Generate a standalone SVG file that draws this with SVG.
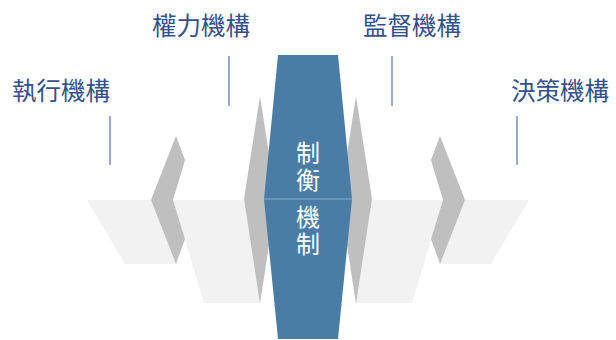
<svg xmlns="http://www.w3.org/2000/svg" width="616" height="340" viewBox="0 0 616 340">
<style>
.box{fill:#f2f2f2}
.chev{fill:#bfbfbf}
.lbl{font-family:"Noto Sans CJK TC","Noto Sans CJK SC",sans-serif;font-size:24.5px;fill:#34508e}
.ctr{font-family:"Noto Sans CJK TC","Noto Sans CJK SC",sans-serif;font-size:24px;fill:#ffffff;writing-mode:vertical-rl}
.lead{stroke:#5b70b0;stroke-width:1.2;fill:none}
</style>
<rect width="616" height="340" fill="#ffffff"/>
<g id="exec">
<polygon class="box" points="87,200 151,200 176,264 125,264"/>
<text class="lbl" x="12" y="100">執行機構</text>
</g>
<g id="decision">
<polygon class="box" points="529,200 465,200 440,264 491,264"/>
<text class="lbl" x="511" y="100">決策機構</text>
</g>
<g id="power">
<polygon class="box" points="173,200 244,200 260,303 204,303"/>
<text class="lbl" x="152" y="35">權力機構</text>
</g>
<g id="supervise">
<polygon class="box" points="443,200 372,200 356,303 412,303"/>
<text class="lbl" x="363" y="35">監督機構</text>
</g>
<g id="chevrons">
<polygon class="chev" points="176,136 185,160 173,200 185,239 176,264 151,200"/>
<polygon class="chev" points="440,136 431,160 443,200 431,239 440,264 465,200"/>
<polygon class="chev" points="260,96 276,199 260,304 244,199"/>
<polygon class="chev" points="356,96 372,199 356,304 340,199"/>
</g>
<g id="balance">
<polygon fill="#4a7da6" points="278,55 338,55 352,199 338,339 278,339 264,199"/>
<line x1="264" y1="199" x2="352" y2="199" stroke="#86a8c8" stroke-width="1"/>
<text class="ctr" x="308" y="141">制<tspan dy="3">衡</tspan></text>
<text class="ctr" x="308" y="205">機<tspan dy="3">制</tspan></text>
</g>
<g id="connectors">
<line class="lead" x1="110" y1="116" x2="110" y2="165"/>
<line class="lead" x1="229" y1="56" x2="229" y2="106"/>
<line class="lead" x1="392" y1="56" x2="392" y2="106"/>
<line class="lead" x1="517" y1="116" x2="517" y2="165"/>
</g>
</svg>
